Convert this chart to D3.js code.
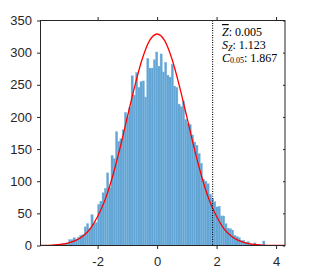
<!DOCTYPE html>
<html>
<head>
<meta charset="utf-8">
<script src="https://cdn.jsdelivr.net/npm/d3@7"></script>
<style>
  body { margin: 0; background: #fff; }
  svg { display: block; }
</style>
</head>
<body>
<div id="chart"></div>
<script>
// histogram of Z (bin counts)
const binStart = -3.65
const binWidth = 0.075
const counts = [
  0, 0, 1, 1, 2, 2, 3, 3, 4, 9,
  9, 12, 10, 13, 16, 17, 29, 34, 27, 48,
  34, 36, 64, 69, 82, 89, 113, 90, 140, 135,
  177, 162, 166, 180, 207, 200, 215, 264, 234, 269,
  246, 255, 256, 231, 291, 276, 276, 289, 301, 279,
  298, 270, 285, 265, 262, 282, 248, 246, 220, 216,
  225, 196, 190, 188, 172, 161, 156, 143, 128, 103,
  100, 96, 80, 73, 68, 60, 61, 46, 46, 34,
  27, 26, 24, 16, 14, 12, 8, 8, 5, 6,
  3, 2, 4, 1, 2, 1, 7, 0
]

// red reference curve
const curveX = [-3.92, -3.5, -3.25, -3, -2.75, -2.5, -2.25, -2, -1.75, -1.5, -1.25, -1, -0.75, -0.5, -0.25,
  0, 0.25, 0.5, 0.75, 1, 1.25, 1.5, 1.75, 2, 2.25, 2.5, 2.75, 3, 3.25, 3.5, 3.75, 4, 4.3]
const curveY = [0.1, 0.7, 1.7, 3.7, 7.5, 14.4, 26, 45, 71, 107, 151, 200, 248, 290, 319,
  329, 319, 290, 248, 200, 151, 107, 71, 45, 26, 14.4, 7.5, 3.7, 1.7, 0.7, 0.3, 0.1, 0]

const critValue = 1.867
const xTicks = [-2, 0, 2, 4]
const yTicks = [0, 50, 100, 150, 200, 250, 300, 350]
const statLines = [
  { name: 'Z', sub: '', value: '0.005', bar: true },
  { name: 'S', sub: 'Z', value: '1.123', bar: false },
  { name: 'C', sub: '0.05', value: '1.867', bar: false }
]

// lienzo
const W = 316, H = 275
const pLeft = 40.5, pTop = 20.5, pRight = 285, pBottom = 245.5
const axisColor = '#262626'

const svg = d3.select('#chart').append('svg')
  .attr('width', W)
  .attr('height', H)

const x = d3.scaleLinear().domain([-3.92, 4.3]).range([pLeft, pRight])
const y = d3.scaleLinear().domain([0, 350]).range([pBottom, pTop])

// bars
const bins = counts.map((c, i) => ({ x0: binStart + i * binWidth, x1: binStart + (i + 1) * binWidth, c }))
svg.append('g')
  .selectAll('rect')
  .data(bins.filter(d => d.c > 0))
  .enter()
  .append('rect')
  .attr('x', d => x(d.x0))
  .attr('width', d => x(d.x1) - x(d.x0))
  .attr('y', d => y(d.c))
  .attr('height', d => y(0) - y(d.c))
  .attr('fill', '#62a5d5')
  .attr('stroke', '#7ab5de')
  .attr('stroke-width', 0.35)

// red curve
const line = d3.line()
  .x((d, i) => x(curveX[i]))
  .y(d => y(d))
  .curve(d3.curveMonotoneX)
svg.append('path')
  .datum(curveY)
  .attr('d', line)
  .attr('fill', 'none')
  .attr('stroke', '#ff0000')
  .attr('stroke-width', 1.3)

// critical value line
svg.append('line')
  .attr('x1', x(critValue)).attr('x2', x(critValue))
  .attr('y1', pTop).attr('y2', pBottom)
  .attr('stroke', '#000')
  .attr('stroke-width', 1.1)
  .attr('stroke-dasharray', '1,1.4')

// ejes
const fontAxis = '"Liberation Sans", Arial, sans-serif'

const xAxis = d3.axisBottom(x).tickValues(xTicks).tickSize(3.5).tickSizeOuter(0).tickPadding(8)
  .tickFormat(d => String(d))
svg.append('g')
  .attr('transform', `translate(0,${pBottom})`)
  .call(xAxis)
  .call(g => g.select('.domain').remove())

const yAxis = d3.axisLeft(y).tickValues(yTicks).tickSize(3.5).tickSizeOuter(0).tickPadding(5)
svg.append('g')
  .attr('transform', `translate(${pLeft},0)`)
  .call(yAxis)
  .call(g => g.select('.domain').remove())

const xTop = d3.axisTop(x).tickValues(xTicks).tickSize(3.5).tickSizeOuter(0).tickFormat('')
svg.append('g')
  .attr('transform', `translate(0,${pTop})`)
  .call(xTop)
  .call(g => g.select('.domain').remove())

const yRight = d3.axisLeft(y).tickValues(yTicks).tickSize(2).tickSizeOuter(0).tickFormat('')
svg.append('g')
  .attr('transform', `translate(${pRight},0)`)
  .call(yRight)
  .call(g => g.select('.domain').remove())

svg.selectAll('.tick line').attr('stroke', axisColor)
svg.selectAll('.tick text')
  .attr('fill', axisColor)
  .style('font-family', fontAxis)
  .style('font-size', '13px')

// box
svg.append('rect')
  .attr('x', pLeft).attr('y', pTop)
  .attr('width', pRight - pLeft).attr('height', pBottom - pTop)
  .attr('fill', 'none')
  .attr('stroke', axisColor)
  .attr('stroke-width', 1)

// stats text
const txt = svg.append('text')
  .attr('x', 222)
  .attr('y', 36)
  .style('font-family', '"Liberation Serif", "DejaVu Serif", serif')
  .style('font-size', '12px')
  .attr('fill', '#000')

statLines.forEach((s, i) => {
  const t = txt.append('tspan')
    .attr('x', 222)
    .attr('y', 36 + i * 12.8)
    .style('font-style', 'italic')
    .text(s.name)
  if (s.bar) t.style('text-decoration', 'overline')
  if (s.sub) {
    txt.append('tspan')
      .attr('dy', 1.8)
      .style('font-size', '8px')
      .style('font-style', s.sub === 'Z' ? 'italic' : 'normal')
      .text(s.sub)
    txt.append('tspan').attr('dy', -1.8).text(': ' + s.value)
  } else {
    txt.append('tspan').text(': ' + s.value)
  }
})
</script>
</body>
</html>
